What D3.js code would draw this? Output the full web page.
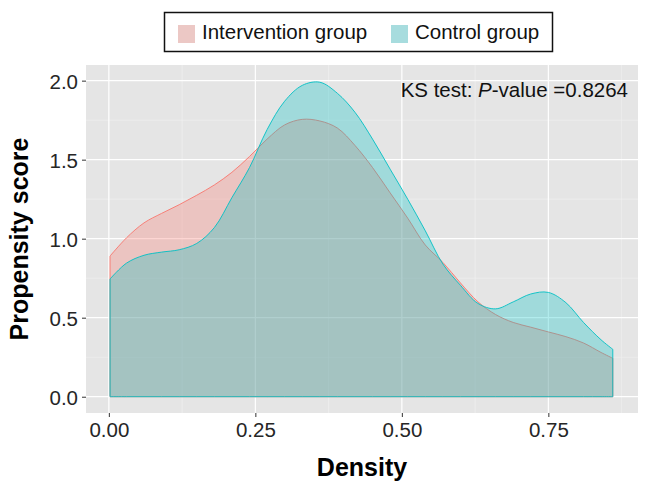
<!DOCTYPE html>
<html>
<head>
<meta charset="utf-8">
<script src="https://cdn.jsdelivr.net/npm/d3@7"></script>
<style>
  html, body { margin: 0; padding: 0; background: #ffffff; }
  svg { display: block; font-family: "Liberation Sans", Arial, sans-serif; }
</style>
</head>
<body>
<svg id="chart" width="650" height="488"></svg>
<script>
// ---- data ----
const xValues = [0.002, 0.03, 0.06, 0.09, 0.12, 0.15, 0.18, 0.21, 0.24, 0.27, 0.30, 0.33, 0.36, 0.39, 0.42, 0.45, 0.48, 0.51, 0.54, 0.57, 0.60, 0.63, 0.66, 0.69, 0.72, 0.75, 0.78, 0.81, 0.84, 0.86];
const interventionValues = [0.89, 1.005, 1.10, 1.16, 1.215, 1.275, 1.34, 1.42, 1.52, 1.63, 1.72, 1.755, 1.745, 1.70, 1.59, 1.45, 1.29, 1.13, 0.96, 0.85, 0.72, 0.60, 0.52, 0.47, 0.44, 0.41, 0.38, 0.34, 0.28, 0.243];
const controlValues = [0.745, 0.845, 0.895, 0.915, 0.93, 0.97, 1.07, 1.26, 1.45, 1.69, 1.87, 1.97, 1.99, 1.92, 1.80, 1.63, 1.44, 1.25, 1.05, 0.84, 0.705, 0.59, 0.556, 0.60, 0.65, 0.66, 0.595, 0.47, 0.36, 0.30];
const seriesNames = ["Intervention group", "Control group"];
const seriesColors = ["#F8766D", "#00BFC4"];
const xTicks = [0.00, 0.25, 0.50, 0.75];
const xTickLabels = ["0.00", "0.25", "0.50", "0.75"];
const yTicks = [0.0, 0.5, 1.0, 1.5, 2.0];
const yTickLabels = ["0.0", "0.5", "1.0", "1.5", "2.0"];
const xMinor = [0.125, 0.375, 0.625, 0.875];
const yMinor = [0.25, 0.75, 1.25, 1.75];
const annotation = { prefix: "KS test: ", italic: "P", suffix: "-value =0.8264" };
const xTitle = "Density";
const yTitle = "Propensity score";

// ---- layout ----
const panel = { left: 86, right: 638, top: 65, bottom: 413 };
const svg = d3.select("#chart");

const x = d3.scaleLinear().domain([-0.039, 0.903]).range([panel.left, panel.right]);
const y = d3.scaleLinear().domain([-0.103, 2.099]).range([panel.bottom, panel.top]);

// panel background
svg.append("rect")
  .attr("x", panel.left).attr("y", panel.top)
  .attr("width", panel.right - panel.left).attr("height", panel.bottom - panel.top)
  .attr("fill", "#E5E5E5");

// grid
const grid = svg.append("g");
grid.selectAll(".xminor").data(xMinor).join("line")
  .attr("x1", d => x(d)).attr("x2", d => x(d))
  .attr("y1", panel.top).attr("y2", panel.bottom)
  .attr("stroke", "#F2F2F2").attr("stroke-width", 0.6);
grid.selectAll(".yminor").data(yMinor).join("line")
  .attr("y1", d => y(d)).attr("y2", d => y(d))
  .attr("x1", panel.left).attr("x2", panel.right)
  .attr("stroke", "#F2F2F2").attr("stroke-width", 0.6);
grid.selectAll(".xmajor").data(xTicks).join("line")
  .attr("x1", d => x(d)).attr("x2", d => x(d))
  .attr("y1", panel.top).attr("y2", panel.bottom)
  .attr("stroke", "#FFFFFF").attr("stroke-width", 1.2);
grid.selectAll(".ymajor").data(yTicks).join("line")
  .attr("y1", d => y(d)).attr("y2", d => y(d))
  .attr("x1", panel.left).attr("x2", panel.right)
  .attr("stroke", "#FFFFFF").attr("stroke-width", 1.2);

// density areas
const series = [interventionValues, controlValues];
const area = d3.area()
  .x((d, i) => x(xValues[i]))
  .y0(y(0))
  .y1(d => y(d))
  .curve(d3.curveCatmullRom.alpha(0.5));

series.forEach((vals, k) => {
  svg.append("path")
    .datum(vals)
    .attr("d", area)
    .attr("fill", seriesColors[k])
    .attr("fill-opacity", 0.3)
    .attr("stroke", seriesColors[k])
    .attr("stroke-width", 0.9)
    .attr("stroke-linejoin", "round");
});

// axes
const textColor = "#262626";
const xAxis = svg.append("g")
  .attr("transform", `translate(0,${panel.bottom})`)
  .call(d3.axisBottom(x).tickValues(xTicks).tickFormat((d, i) => xTickLabels[i]).tickSize(4).tickPadding(6));
const yAxis = svg.append("g")
  .attr("transform", `translate(${panel.left},0)`)
  .call(d3.axisLeft(y).tickValues(yTicks).tickFormat((d, i) => yTickLabels[i]).tickSize(4).tickPadding(4));
[xAxis, yAxis].forEach(ax => {
  ax.select(".domain").remove();
  ax.selectAll(".tick line").attr("stroke", "#333333").attr("stroke-width", 1);
  ax.selectAll(".tick text")
    .attr("fill", textColor)
    .attr("font-size", "20.5px")
    .attr("font-family", "'Liberation Sans', Arial, sans-serif");
});
xAxis.selectAll(".tick text").attr("dy", null).attr("y", 24);
yAxis.selectAll(".tick text").attr("dy", null).attr("y", 8);

// axis titles
svg.append("text")
  .attr("x", (panel.left + panel.right) / 2).attr("y", 476)
  .attr("text-anchor", "middle")
  .attr("font-size", "25px").attr("font-weight", "bold").attr("fill", "#000")
  .text(xTitle);
svg.append("text")
  .attr("transform", `translate(28,${(panel.top + panel.bottom) / 2}) rotate(-90)`)
  .attr("text-anchor", "middle")
  .attr("font-size", "25px").attr("font-weight", "bold").attr("fill", "#000")
  .text(yTitle);

// annotation
const ann = svg.append("text")
  .attr("x", 628).attr("y", 96.5)
  .attr("text-anchor", "end")
  .attr("font-size", "20.5px").attr("fill", "#111");
ann.append("tspan").text(annotation.prefix);
ann.append("tspan").attr("font-style", "italic").text(annotation.italic);
ann.append("tspan").text(annotation.suffix);

// legend
const legend = svg.append("g");
legend.append("rect")
  .attr("x", 164.5).attr("y", 12.5).attr("width", 388).attr("height", 39)
  .attr("fill", "#fff").attr("stroke", "#111").attr("stroke-width", 1.5);
const legendX = [178, 391];
seriesNames.forEach((name, k) => {
  legend.append("rect")
    .attr("x", legendX[k]).attr("y", 25).attr("width", 17).attr("height", 18)
    .attr("fill", "#E8E8E8");
  legend.append("rect")
    .attr("x", legendX[k]).attr("y", 25).attr("width", 17).attr("height", 18)
    .attr("fill", seriesColors[k]).attr("fill-opacity", 0.28);
  legend.append("text")
    .attr("x", legendX[k] + 24).attr("y", 38.5)
    .attr("font-size", "20.5px").attr("fill", "#111")
    .text(name);
});
</script>
</body>
</html>
